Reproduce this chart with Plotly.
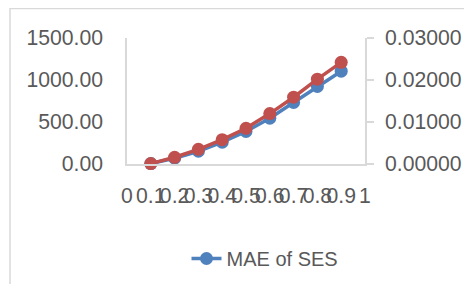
import plotly.graph_objects as go

alpha = [0.1, 0.2, 0.3, 0.4, 0.5, 0.6, 0.7, 0.8, 0.9]
mae_ses = [5, 69, 152, 260, 387, 545, 732, 923, 1105]
second_series = [0.0001, 0.0016, 0.0035, 0.0058, 0.0085, 0.0120, 0.0159, 0.0202, 0.0242]
x_tickvals = [0, 0.1, 0.2, 0.3, 0.4, 0.5, 0.6, 0.7, 0.8, 0.9, 1]
x_ticktext = ["0", "0.1", "0.2", "0.3", "0.4", "0.5", "0.6", "0.7", "0.8", "0.9", "1"]

BLUE = "#4F81BD"
RED = "#C0504D"
TXT = "#595959"
AX = "#D9D9D9"
FONT = "Liberation Sans"
FS = 21.2

fig = go.Figure()
fig.add_trace(go.Scatter(
    x=alpha, y=mae_ses, name="MAE of SES", mode="lines+markers",
    line=dict(color=BLUE, width=3.5), marker=dict(color=BLUE, size=13),
    yaxis="y", showlegend=True, cliponaxis=False,
))
fig.add_trace(go.Scatter(
    x=alpha, y=second_series, name="", mode="lines+markers",
    line=dict(color=RED, width=3.5), marker=dict(color=RED, size=13),
    yaxis="y2", showlegend=False, cliponaxis=False,
))

fig.update_layout(
    width=464, height=276,
    margin=dict(l=119, r=107, t=30, b=120, autoexpand=False),
    paper_bgcolor="white", plot_bgcolor="white",
    font=dict(family=FONT, size=FS, color=TXT),
    xaxis=dict(
        range=[0, 1], tickmode="array", tickvals=x_tickvals, ticktext=x_ticktext,
        showgrid=False, zeroline=False, showline=True, linecolor=AX, linewidth=1.5,
        ticks="", ticklabelstandoff=12, tickangle=0,
        tickfont=dict(family=FONT, size=FS, color=TXT),
    ),
    yaxis=dict(
        range=[0, 1500], tickmode="array", tickvals=[0, 500, 1000, 1500],
        tickformat=".2f", showgrid=False, zeroline=False,
        showline=True, linecolor=AX, linewidth=1.5, ticks="",
        ticklabelstandoff=18,
    ),
    yaxis2=dict(
        range=[0, 0.03], tickmode="array", tickvals=[0, 0.01, 0.02, 0.03],
        tickformat=".5f", overlaying="y", side="right", showgrid=False,
        zeroline=False, showline=True, linecolor=AX, linewidth=1.5,
        ticks="outside", ticklen=7, tickcolor=AX, tickwidth=1.5,
        ticklabelstandoff=7,
    ),
    legend=dict(
        orientation="h", x=0.25, y=-0.75, xanchor="left", yanchor="middle",
        font=dict(family=FONT, size=20, color=TXT), bgcolor="rgba(0,0,0,0)",
    ),
    shapes=[dict(
        type="rect", xref="paper", yref="paper",
        x0=-0.4916, x1=2.0, y0=-3.0, y1=1.234,
        line=dict(color=AX, width=1.5), fillcolor="rgba(0,0,0,0)", layer="below",
    )],
)

fig.write_html("out.html")
